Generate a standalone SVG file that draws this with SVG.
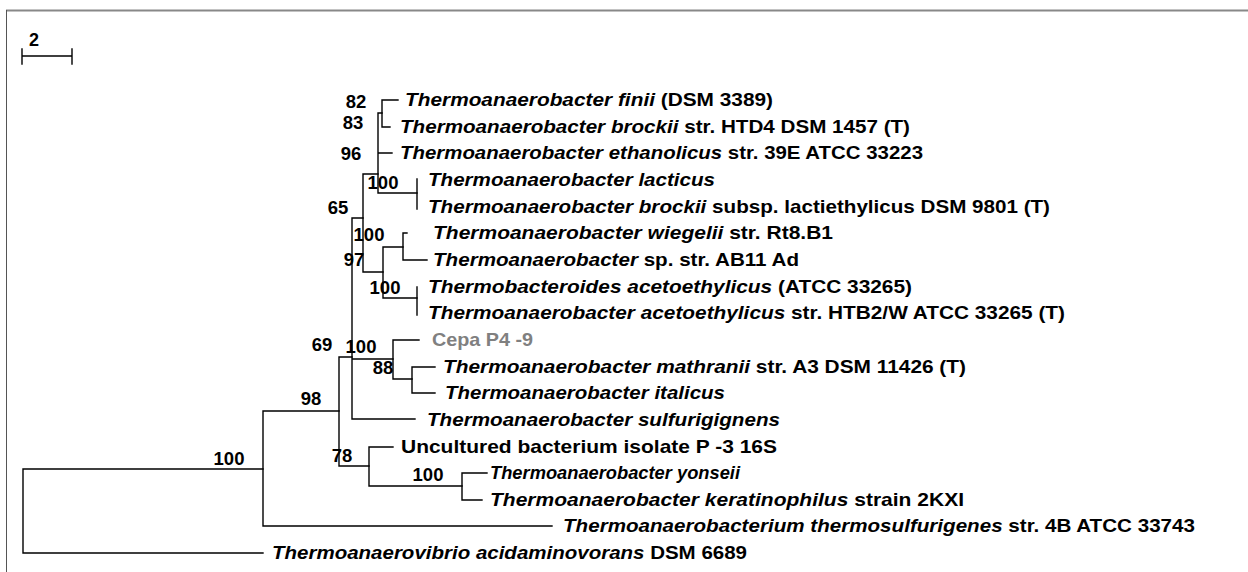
<svg xmlns="http://www.w3.org/2000/svg" width="1248" height="572" viewBox="0 0 1248 572">
<style>
text{font-family:"Liberation Sans",Arial,sans-serif;font-weight:bold;font-size:19px;fill:#000}
.i{font-style:italic}
.bs{text-anchor:middle;font-size:18.5px}
.ln{stroke:#000;stroke-width:1.4;fill:none;stroke-linecap:square}
.gray{fill:#808080}
</style>
<rect width="1248" height="572" fill="#fff"/>
<g id="frame">
<line x1="6" y1="10.5" x2="1248" y2="10.5" stroke="#888" stroke-width="2"/>
<line x1="6.5" y1="10" x2="6.5" y2="572" stroke="#555" stroke-width="1"/>
</g>
<g id="scale">
<text x="29" y="46" style="font-size:18px">2</text>
<path class="ln" d="M22 56H72M22 49V64M72 49V64"/>
</g>
<g id="connectors" class="ln">
<path d="M23 469V553M23 553H263M23 469H263"/>
<path d="M263 411V526M263 526H552M263 411H339"/>
<path d="M339 357V466M339 466H369M339 357H352"/>
<path d="M352 218V419M352 419H415M352 359H393M352 218H363"/>
<path d="M363 174V272M363 272H383M363 174H378"/>
<path d="M378 113V193M378 113H382M378 153H392M378 193H417"/>
<path d="M382 100V127M382 100H398M382 127H390"/>
<path d="M417 179V209"/>
<path d="M383 247V298M383 247H403M383 298H417"/>
<path d="M403 233V260M403 233H407M403 260H427"/>
<path d="M417 287V315"/>
<path d="M393 340V379M393 340H419M393 379H412"/>
<path d="M412 367V393M412 367H435M412 393H435"/>
<path d="M369 447V486M369 447H393M369 486H462"/>
<path d="M462 473V500M462 473H487M462 500H482"/>
</g>
<g id="support">
<text class="bs" x="356" y="108">82</text>
<text class="bs" x="353" y="129">83</text>
<text class="bs" x="351" y="160">96</text>
<text class="bs" x="383" y="189">100</text>
<text class="bs" x="338" y="214">65</text>
<text class="bs" x="369" y="241">100</text>
<text class="bs" x="354" y="266">97</text>
<text class="bs" x="385" y="294">100</text>
<text class="bs" x="322" y="351">69</text>
<text class="bs" x="361" y="353">100</text>
<text class="bs" x="383" y="374">88</text>
<text class="bs" x="311" y="405">98</text>
<text class="bs" x="342" y="462">78</text>
<text class="bs" x="428" y="481">100</text>
<text class="bs" x="229" y="465">100</text>
</g>
<g id="taxa">
<g id="t1"><text x="405" y="106" textLength="368" lengthAdjust="spacingAndGlyphs"><tspan class="i">Thermoanaerobacter finii</tspan> (DSM 3389)</text></g>
<g id="t2"><text x="400" y="133" textLength="510" lengthAdjust="spacingAndGlyphs"><tspan class="i">Thermoanaerobacter brockii</tspan> str. HTD4 DSM 1457 (T)</text></g>
<g id="t3"><text x="400" y="159" textLength="523" lengthAdjust="spacingAndGlyphs"><tspan class="i">Thermoanaerobacter ethanolicus</tspan> str. 39E ATCC 33223</text></g>
<g id="t4"><text x="428" y="186" textLength="287" lengthAdjust="spacingAndGlyphs"><tspan class="i">Thermoanaerobacter lacticus</tspan></text></g>
<g id="t5"><text x="428" y="213" textLength="622" lengthAdjust="spacingAndGlyphs"><tspan class="i">Thermoanaerobacter brockii</tspan> subsp. lactiethylicus DSM 9801 (T)</text></g>
<g id="t6"><text x="433" y="239" textLength="400" lengthAdjust="spacingAndGlyphs"><tspan class="i">Thermoanaerobacter wiegelii</tspan>  str. Rt8.B1</text></g>
<g id="t7"><text x="433" y="266" textLength="366" lengthAdjust="spacingAndGlyphs"><tspan class="i">Thermoanaerobacter</tspan> sp. str. AB11 Ad</text></g>
<g id="t8"><text x="428" y="293" textLength="484" lengthAdjust="spacingAndGlyphs"><tspan class="i">Thermobacteroides acetoethylicus</tspan>  (ATCC 33265)</text></g>
<g id="t9"><text x="428" y="319" textLength="637" lengthAdjust="spacingAndGlyphs"><tspan class="i">Thermoanaerobacter acetoethylicus</tspan> str. HTB2/W ATCC 33265 (T)</text></g>
<g id="t10"><text class="gray" x="432" y="346" textLength="101" lengthAdjust="spacingAndGlyphs">Cepa P4 -9</text></g>
<g id="t11"><text x="443" y="373" textLength="523" lengthAdjust="spacingAndGlyphs"><tspan class="i">Thermoanaerobacter mathranii</tspan> str. A3  DSM 11426 (T)</text></g>
<g id="t12"><text x="445" y="399" textLength="280" lengthAdjust="spacingAndGlyphs"><tspan class="i">Thermoanaerobacter italicus</tspan></text></g>
<g id="t13"><text x="427" y="426" textLength="353" lengthAdjust="spacingAndGlyphs"><tspan class="i">Thermoanaerobacter sulfurigignens</tspan></text></g>
<g id="t14"><text x="401" y="453" textLength="376" lengthAdjust="spacingAndGlyphs">Uncultured bacterium isolate P -3 16S</text></g>
<g id="t15"><text x="490" y="479" textLength="250" lengthAdjust="spacingAndGlyphs"><tspan class="i">Thermoanaerobacter yonseii</tspan></text></g>
<g id="t16"><text x="490" y="506" textLength="474" lengthAdjust="spacingAndGlyphs"><tspan class="i">Thermoanaerobacter keratinophilus</tspan> strain 2KXI</text></g>
<g id="t17"><text x="563" y="532" textLength="632" lengthAdjust="spacingAndGlyphs"><tspan class="i">Thermoanaerobacterium thermosulfurigenes</tspan>  str. 4B ATCC 33743</text></g>
<g id="t18"><text x="272" y="559" textLength="475" lengthAdjust="spacingAndGlyphs"><tspan class="i">Thermoanaerovibrio acidaminovorans</tspan>  DSM 6689</text></g>
</g>
</svg>
